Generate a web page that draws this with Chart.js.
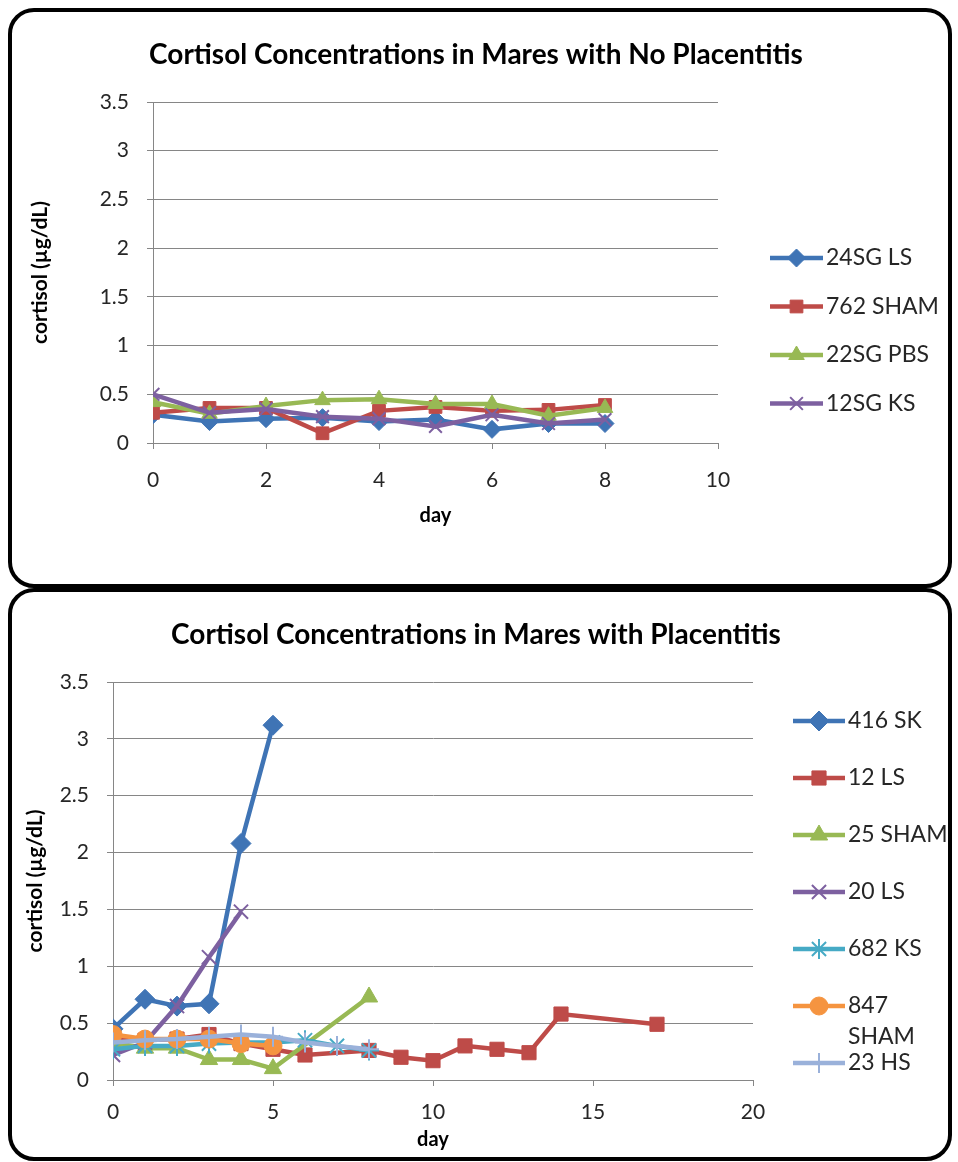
<!DOCTYPE html>
<html>
<head>
<meta charset="utf-8">
<script src="https://cdn.jsdelivr.net/npm/chart.js@4.4.0/dist/chart.umd.min.js"></script>
<style>
  body { margin: 0; background: #fff; width: 958px; height: 1162px; position: relative; overflow: hidden; }
  .wrap { position: absolute; left: 0; width: 958px; }
  .box { position: absolute; border: 4px solid #000; border-radius: 26px; box-sizing: border-box; pointer-events: none; }
</style>
</head>
<body>
<div class="wrap" style="top:0;height:588px"><canvas id="noPlacentitis"></canvas></div>
<div class="wrap" style="top:588px;height:574px"><canvas id="placentitis"></canvas></div>
<div class="box" style="left:8px;top:8px;width:944px;height:580px"></div>
<div class="box" style="left:8px;top:588px;width:944px;height:573px"></div>
<script>
// ---- top chart: mares with no placentitis ----
const topDays = [0, 1, 2, 3, 4, 5, 6, 7, 8]
const sg24LS   = [0.29, 0.22, 0.25, 0.26, 0.22, 0.24, 0.14, 0.20, 0.20]
const sham762  = [0.31, 0.36, 0.36, 0.10, 0.33, 0.37, 0.33, 0.34, 0.39]
const sg22PBS  = [0.42, 0.30, 0.38, 0.44, 0.45, 0.40, 0.40, 0.28, 0.36]
const sg12KS   = [0.50, 0.31, 0.35, 0.27, 0.25, 0.17, 0.29, 0.20, 0.24]
const topXTicks = [0, 2, 4, 6, 8, 10]

// ---- bottom chart: mares with placentitis ----
const sk416Days = [0, 1, 2, 3, 4, 5]
const sk416     = [0.45, 0.71, 0.65, 0.67, 2.08, 3.12]
const ls12Days  = [0, 1, 2, 3, 4, 5, 6, 8, 9, 10, 11, 12, 13, 14, 17]
const ls12      = [0.38, 0.35, 0.36, 0.40, 0.32, 0.27, 0.22, 0.26, 0.20, 0.17, 0.30, 0.27, 0.24, 0.58, 0.49]
const sham25Days = [0, 1, 2, 3, 4, 5, 8]
const sham25     = [0.33, 0.28, 0.28, 0.18, 0.18, 0.10, 0.73]
const ls20Days  = [0, 1, 2, 3, 4]
const ls20      = [0.22, 0.33, 0.65, 1.08, 1.48]
const ks682Days = [0, 1, 2, 3, 4, 5, 6, 7, 8]
const ks682     = [0.27, 0.30, 0.30, 0.32, 0.33, 0.33, 0.35, 0.30, 0.26]
const sham847Days = [0, 1, 2, 3, 4, 5]
const sham847     = [0.40, 0.36, 0.36, 0.36, 0.32, 0.30]
const hs23Days  = [0, 1, 2, 3, 4, 5, 6, 7, 8]
const hs23      = [0.33, 0.35, 0.36, 0.38, 0.40, 0.38, 0.33, 0.30, 0.27]
const bottomXTicks = [0, 5, 10, 15, 20]

const FONT = 'Lato, "Open Sans", sans-serif'
const GRID = '#868686'
const TEXT = '#262626'

function series(label, days, vals, color, style, radius, idx) {
  const cross = style === 'cross' || style === 'crossRot' || style === 'star'
  return {
    label: label,
    data: days.map((d, i) => ({ x: d, y: vals[i] })),
    borderColor: color,
    backgroundColor: color,
    pointBackgroundColor: color,
    pointBorderColor: color,
    pointStyle: style,
    pointRadius: radius,
    pointHoverRadius: radius,
    pointBorderWidth: cross ? 2 : 1,
    borderWidth: 4.5,
    tension: 0,
    order: -idx
  }
}

// title centred on the whole box, like the Excel chart
const boxTitle = {
  id: 'boxTitle',
  afterDraw(chart, args, opts) {
    const ctx = chart.ctx
    ctx.save()
    ctx.font = 'bold 28px ' + FONT
    ctx.fillStyle = '#000'
    ctx.textAlign = 'center'
    ctx.textBaseline = 'middle'
    ctx.fillText(opts.text, opts.cx, opts.cy)
    ctx.restore()
  }
}

// Excel-like legend: line sample with marker, then label (wraps if too wide)
const excelLegend = {
  id: 'excelLegend',
  afterDraw(chart, args, opts) {
    const ctx = chart.ctx
    ctx.save()
    ctx.font = opts.font
    ctx.textBaseline = 'middle'
    ctx.textAlign = 'left'
    chart.data.datasets.forEach((ds, i) => {
      const y = opts.top + i * opts.step
      ctx.strokeStyle = ds.borderColor
      ctx.lineWidth = ds.borderWidth
      ctx.beginPath()
      ctx.moveTo(opts.x, y)
      ctx.lineTo(opts.x + opts.lineLen, y)
      ctx.stroke()
      ctx.fillStyle = ds.pointBackgroundColor
      ctx.strokeStyle = ds.pointBorderColor
      ctx.lineWidth = ds.pointBorderWidth
      Chart.helpers.drawPoint(ctx, {
        pointStyle: ds.pointStyle, radius: ds.pointRadius, rotation: 0, borderWidth: ds.pointBorderWidth
      }, opts.x + opts.lineLen / 2, y)
      ctx.fillStyle = TEXT
      const tx = opts.x + opts.lineLen + 3
      if (ctx.measureText(ds.label).width > opts.maxWidth) {
        const words = ds.label.split(' ')
        words.forEach((w, j) => ctx.fillText(w, tx, y + j * opts.wrapStep))
      } else {
        ctx.fillText(ds.label, tx, y)
      }
    })
    ctx.restore()
  }
}

function makeOptions(cfg) {
  return {
    responsive: true,
    maintainAspectRatio: false,
    animation: false,
    layout: { padding: { left: 20, right: cfg.right, top: cfg.top, bottom: cfg.bottom } },
    plugins: {
      legend: { display: false },
      tooltip: { enabled: false },
      title: { display: false },
      boxTitle: { text: cfg.title, cx: 476, cy: cfg.titleY },
      excelLegend: cfg.legend
    },
    scales: {
      x: {
        type: 'linear',
        min: 0,
        max: cfg.xMax,
        afterBuildTicks: (s) => { s.ticks = cfg.xTicks.map(v => ({ value: v })) },
        ticks: { color: TEXT, font: { family: FONT, size: 21 }, padding: cfg.xPad, maxRotation: 0 },
        grid: { drawOnChartArea: false, drawTicks: true, tickLength: 6, color: GRID },
        border: { color: GRID },
        title: { display: true, text: 'day', color: '#000', font: { family: FONT, size: 20, weight: 'bold' }, padding: { top: 0, bottom: 4 } },
        afterFit: (s) => { s.height = cfg.xHeight }
      },
      y: {
        min: 0,
        max: 3.5,
        ticks: { stepSize: 0.5, color: TEXT, font: { family: FONT, size: 21 }, padding: cfg.yPad, callback: v => String(+v.toFixed(1)) },
        grid: { color: GRID, tickLength: 6 },
        border: { color: GRID },
        title: { display: true, text: 'cortisol (µg/dL)', color: '#000', font: { family: FONT, size: 21, weight: 'bold' }, padding: { top: cfg.yTitlePad, bottom: 0 } },
        afterFit: (s) => { s.width = cfg.yWidth }
      }
    }
  }
}

const BLUE = '#3F74B5', RED = '#BE4B48', GREEN = '#98B954', PURPLE = '#7D60A0'
const TEAL = '#46AAC5', ORANGE = '#F59440', LIGHT = '#9AB1DA'

new Chart(document.getElementById('noPlacentitis'), {
  type: 'line',
  data: {
    datasets: [
      series('24SG LS', topDays, sg24LS, BLUE, 'rectRot', 9, 0),
      series('762 SHAM', topDays, sham762, RED, 'rect', 9, 1),
      series('22SG PBS', topDays, sg22PBS, GREEN, 'triangle', 9, 2),
      series('12SG KS', topDays, sg12KS, PURPLE, 'crossRot', 9, 3)
    ]
  },
  options: makeOptions({
    title: 'Cortisol Concentrations in Mares with No Placentitis', titleY: 55,
    right: 240, top: 102, bottom: 56,
    xMax: 10, xTicks: topXTicks, xPad: 19, xHeight: 89,
    yPad: 18, yWidth: 133, yTitlePad: 8,
    legend: { x: 770, lineLen: 53, top: 258, step: 48.5, font: '23px ' + FONT, maxWidth: 200, wrapStep: 31 }
  }),
  plugins: [boxTitle, excelLegend]
})

new Chart(document.getElementById('placentitis'), {
  type: 'line',
  data: {
    datasets: [
      series('416 SK', sk416Days, sk416, BLUE, 'rectRot', 10, 0),
      series('12 LS', ls12Days, ls12, RED, 'rect', 10, 1),
      series('25 SHAM', sham25Days, sham25, GREEN, 'triangle', 10, 2),
      series('20 LS', ls20Days, ls20, PURPLE, 'crossRot', 10, 3),
      series('682 KS', ks682Days, ks682, TEAL, 'star', 10, 4),
      series('847 SHAM', sham847Days, sham847, ORANGE, 'circle', 9, 5),
      series('23 HS', hs23Days, hs23, LIGHT, 'cross', 10, 6)
    ]
  },
  options: makeOptions({
    title: 'Cortisol Concentrations in Mares with Placentitis', titleY: 47,
    right: 205, top: 94, bottom: 6,
    xMax: 20, xTicks: bottomXTicks, xPad: 14, xHeight: 76,
    yPad: 18, yWidth: 93, yTitlePad: 3,
    legend: { x: 793, lineLen: 52, top: 133, step: 57, font: '23px ' + FONT, maxWidth: 100, wrapStep: 31 }
  }),
  plugins: [boxTitle, excelLegend]
})
</script>
</body>
</html>
